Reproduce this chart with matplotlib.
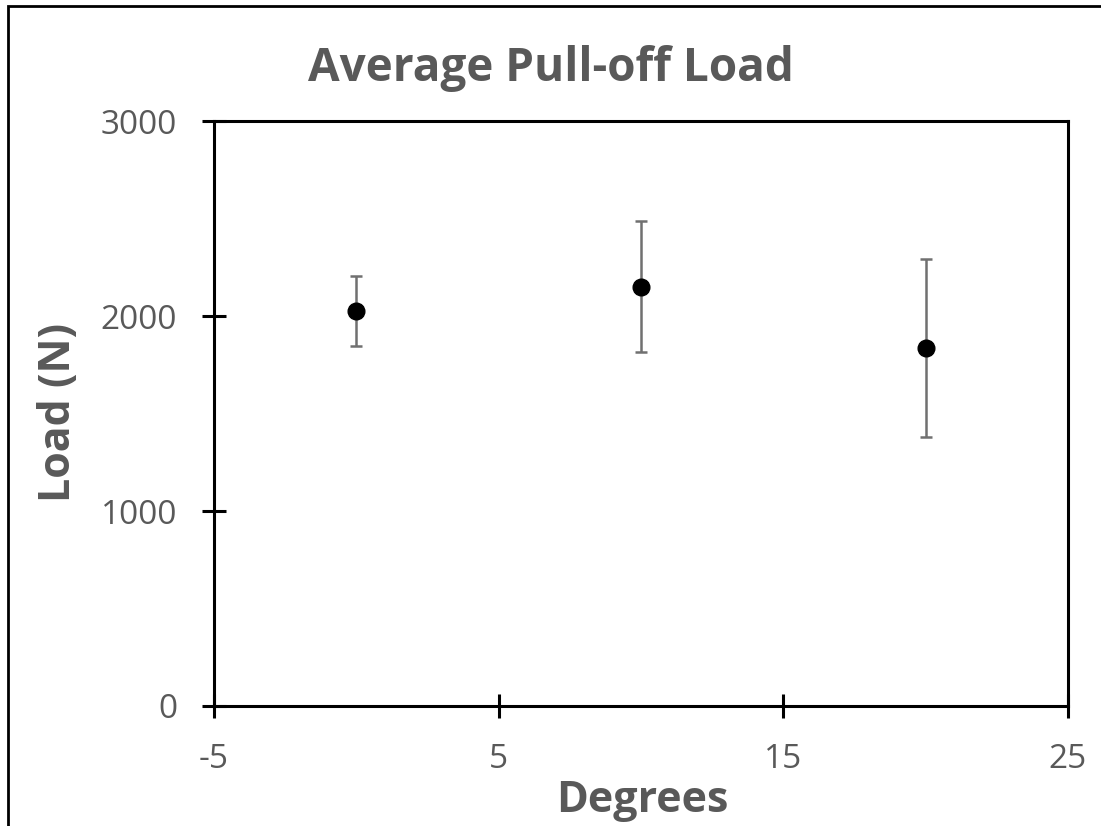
import matplotlib.pyplot as plt
from matplotlib.patches import Rectangle

degrees = [0, 10, 20]
load = [2025, 2150, 1835]
load_err = [180, 335, 455]

xticks = [-5, 5, 15, 25]
yticks = [0, 1000, 2000, 3000]

grey = '#595959'
plt.rcParams['font.family'] = ['Open Sans', 'DejaVu Sans']
plt.rcParams['axes.unicode_minus'] = False

fig = plt.figure(figsize=(11.01, 8.26), dpi=100)
ax = fig.add_axes([214 / 1101, 1 - 706 / 826, (1068 - 214) / 1101, (706 - 121) / 826])

ax.errorbar(degrees, load, yerr=load_err, fmt='o', color='black', markersize=12,
            ecolor='#707070', elinewidth=1.8, capsize=4.3, capthick=1.8)

ax.set_xlim(-5, 25)
ax.set_ylim(0, 3000)
ax.set_xticks(xticks)
ax.set_yticks(yticks)
for s in ax.spines.values():
    s.set_linewidth(2.2)
    s.set_color('black')
ax.tick_params(direction='inout', length=17, width=2.2, colors='black',
               labelcolor=grey, labelsize=24)
ax.tick_params(axis='x', pad=18)
ax.tick_params(axis='y', pad=18)

fig.text(0.5005, 0.9165, 'Average Pull-off Load', ha='center', va='center',
         fontsize=33, fontweight='bold', color=grey)
fig.text(0.583, 0.031, 'Degrees', ha='center', va='center',
         fontsize=31, fontweight='bold', color=grey)
fig.text(0.053, 0.501, 'Load (N)', ha='center', va='center', rotation=90,
         fontsize=31, fontweight='bold', color=grey)

# outer chart frame, cut off at right and bottom like the source
fig.patches.append(Rectangle((8 / 1101, -0.1), 1.2, 1 - 6 / 826 + 0.1,
                             transform=fig.transFigure, fill=False,
                             edgecolor='black', linewidth=2))

fig.savefig('out.png', dpi=100)
